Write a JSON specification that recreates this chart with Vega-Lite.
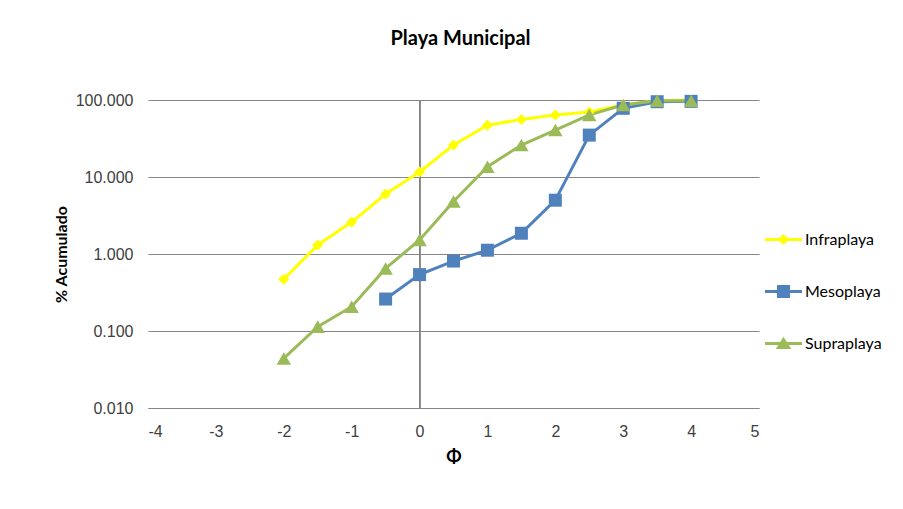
{
  "$schema": "https://vega.github.io/schema/vega-lite/v6.json",
  "width": 611,
  "height": 308,
  "autosize": "none",
  "padding": {"left": 148, "top": 100, "right": 144, "bottom": 101},
  "background": "white",
  "config": {
    "view": {"stroke": null},
    "font": "Lato",
    "axis": {"labelFont": "Liberation Sans", "labelColor": "#404040", "titleColor": "#000000"}
  },
  "title": {
    "text": "Playa Municipal",
    "font": "Lato",
    "fontSize": 20,
    "fontWeight": "bold",
    "color": "#000000",
    "anchor": "middle",
    "dx": 7,
    "offset": 43
  },
  "data": {
    "values": [
      {"phi": -2, "pct": 0.47, "serie": "Infraplaya"},
      {"phi": -1.5, "pct": 1.31, "serie": "Infraplaya"},
      {"phi": -1, "pct": 2.6, "serie": "Infraplaya"},
      {"phi": -0.5, "pct": 6.0, "serie": "Infraplaya"},
      {"phi": 0, "pct": 11.6, "serie": "Infraplaya"},
      {"phi": 0.5, "pct": 26, "serie": "Infraplaya"},
      {"phi": 1, "pct": 47, "serie": "Infraplaya"},
      {"phi": 1.5, "pct": 56, "serie": "Infraplaya"},
      {"phi": 2, "pct": 64, "serie": "Infraplaya"},
      {"phi": 2.5, "pct": 70, "serie": "Infraplaya"},
      {"phi": 3, "pct": 87, "serie": "Infraplaya"},
      {"phi": 3.5, "pct": 98, "serie": "Infraplaya"},
      {"phi": 4, "pct": 100, "serie": "Infraplaya"},
      {"phi": -0.5, "pct": 0.26, "serie": "Mesoplaya"},
      {"phi": 0, "pct": 0.54, "serie": "Mesoplaya"},
      {"phi": 0.5, "pct": 0.81, "serie": "Mesoplaya"},
      {"phi": 1, "pct": 1.12, "serie": "Mesoplaya"},
      {"phi": 1.5, "pct": 1.86, "serie": "Mesoplaya"},
      {"phi": 2, "pct": 5.0, "serie": "Mesoplaya"},
      {"phi": 2.5, "pct": 35, "serie": "Mesoplaya"},
      {"phi": 3, "pct": 78, "serie": "Mesoplaya"},
      {"phi": 3.5, "pct": 95, "serie": "Mesoplaya"},
      {"phi": 4, "pct": 96, "serie": "Mesoplaya"},
      {"phi": -2, "pct": 0.044, "serie": "Supraplaya"},
      {"phi": -1.5, "pct": 0.114, "serie": "Supraplaya"},
      {"phi": -1, "pct": 0.207, "serie": "Supraplaya"},
      {"phi": -0.5, "pct": 0.65, "serie": "Supraplaya"},
      {"phi": 0, "pct": 1.52, "serie": "Supraplaya"},
      {"phi": 0.5, "pct": 4.8, "serie": "Supraplaya"},
      {"phi": 1, "pct": 13.6, "serie": "Supraplaya"},
      {"phi": 1.5, "pct": 26, "serie": "Supraplaya"},
      {"phi": 2, "pct": 40.7, "serie": "Supraplaya"},
      {"phi": 2.5, "pct": 64, "serie": "Supraplaya"},
      {"phi": 3, "pct": 86, "serie": "Supraplaya"},
      {"phi": 3.5, "pct": 98, "serie": "Supraplaya"},
      {"phi": 4, "pct": 98, "serie": "Supraplaya"}
    ]
  },
  "encoding": {
    "x": {
      "field": "phi",
      "type": "quantitative",
      "title": "Φ",
      "scale": {"domain": [-4, 5], "nice": false, "zero": false},
      "axis": {
        "values": [-4, -3, -2, -1, 0, 1, 2, 3, 4, 5],
        "labelExpr": "'' + datum.value",
        "grid": false,
        "ticks": false,
        "domainColor": "#868686",
        "domainWidth": 1,
        "labelFontSize": 16,
        "labelPadding": 15,
        "titleFont": "Lato",
        "titleFontSize": 18,
        "titleFontWeight": "bold",
        "titlePadding": 9
      }
    },
    "y": {
      "field": "pct",
      "type": "quantitative",
      "title": "% Acumulado",
      "scale": {"type": "log", "domain": [0.01, 100], "nice": false},
      "axis": {
        "values": [0.01, 0.1, 1, 10, 100],
        "format": ".3f",
        "grid": true,
        "gridColor": "#868686",
        "gridWidth": 1,
        "domain": false,
        "ticks": false,
        "labelFontSize": 16,
        "labelPadding": 15,
        "titleFont": "Lato",
        "titleFontSize": 16,
        "titleFontWeight": "bold",
        "titlePadding": 6
      }
    },
    "color": {
      "field": "serie",
      "type": "nominal",
      "scale": {"domain": ["Infraplaya", "Mesoplaya", "Supraplaya"], "range": ["#FFFF00", "#4F81BD", "#9BBB59"]},
      "legend": {
        "orient": "none",
        "legendX": 617,
        "legendY": 121,
        "title": null,
        "symbolSize": 1369,
        "symbolStrokeWidth": 0,
        "symbolOpacity": 1,
        "labelFont": "Lato",
        "labelFontSize": 16,
        "labelColor": "#000000",
        "rowPadding": 25,
        "labelOffset": 3,
        "encode": {
          "symbols": {
            "update": {
              "shape": {"signal": "datum.value === 'Infraplaya' ? 'M-1,-0.08H1V0.08H-1Z M0,-0.3L0.3,0L0,0.3L-0.3,0Z' : datum.value === 'Mesoplaya' ? 'M-1,-0.08H1V0.08H-1Z M-0.35,-0.35H0.35V0.35H-0.35Z' : 'M-1,-0.08H1V0.08H-1Z M0,-0.36L0.42,0.3H-0.42Z'"},
              "fill": {"signal": "datum.value === 'Infraplaya' ? '#FFFF00' : datum.value === 'Mesoplaya' ? '#4F81BD' : '#9BBB59'"},
              "size": {"value": 1369},
              "strokeWidth": {"value": 0},
              "opacity": {"value": 1}
            }
          }
        }
      }
    }
  },
  "layer": [
    {
      "mark": {"type": "rule", "color": "#868686", "strokeWidth": 1},
      "encoding": {"x": {"datum": 0}, "y": null, "color": null}
    },
    {
      "mark": {"type": "line", "strokeWidth": 3}
    },
    {
      "transform": [{"filter": "datum.serie === 'Infraplaya'"}],
      "mark": {"type": "point", "filled": true, "opacity": 1, "shape": "diamond", "size": 121}
    },
    {
      "transform": [{"filter": "datum.serie === 'Mesoplaya'"}],
      "mark": {"type": "point", "filled": true, "opacity": 1, "shape": "square", "size": 169}
    },
    {
      "transform": [{"filter": "datum.serie === 'Supraplaya'"}],
      "mark": {"type": "point", "filled": true, "opacity": 1, "shape": "triangle-up", "size": 210}
    }
  ]
}
